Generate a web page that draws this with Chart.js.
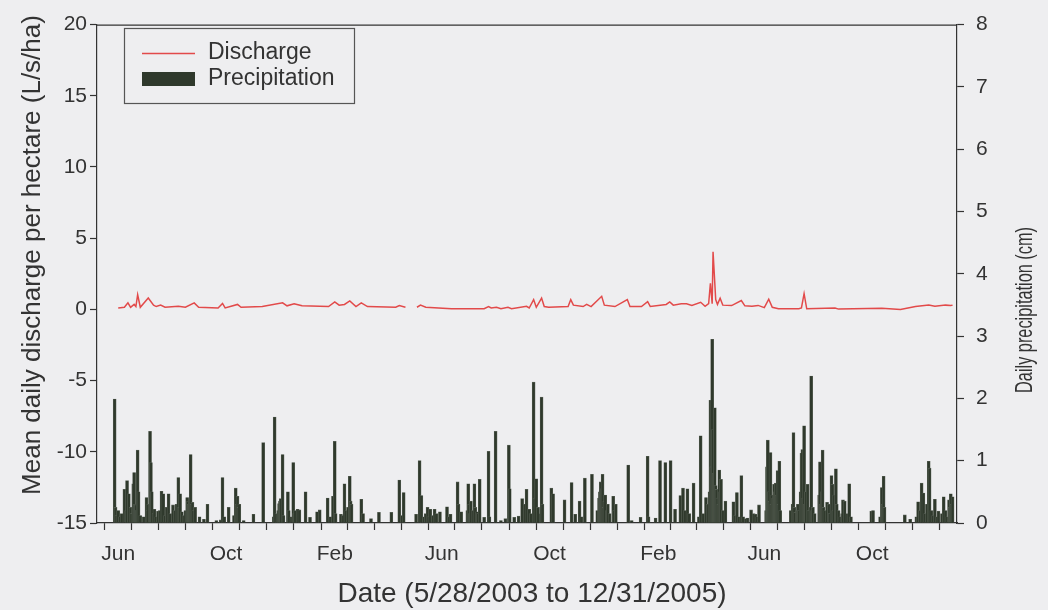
<!DOCTYPE html>
<html>
<head>
<meta charset="utf-8">
<title>Discharge and precipitation</title>
<script src="https://cdn.jsdelivr.net/npm/chart.js@4.4.1/dist/chart.umd.min.js"></script>
<style>
  html, body { margin: 0; padding: 0; background: #eeeef0; }
  #wrap { width: 1048px; height: 610px; }
</style>
</head>
<body>
<div id="wrap"><canvas id="chart" width="1048" height="610"></canvas></div>
<script>
// Day numbers are counted from 5/28/2003 (day 0) to 12/31/2005 (day 948).
const seriesStart = Date.UTC(2003, 4, 28);

// Daily precipitation (cm), rain days only
const precipDay = [
  0, 1, 2, 4, 6, 8, 11, 13, 14, 16,
  18, 19, 21, 22, 23, 24, 25, 26, 27, 29,
  33, 36, 37, 38, 40, 41, 42, 44, 45, 47,
  49, 51, 53, 55, 57, 59, 61, 63, 66, 68,
  70, 72, 73, 74, 76, 78, 80, 82, 83, 84,
  85, 86, 87, 88, 89, 91, 96, 101, 105, 115,
  120, 122, 124, 129, 135, 137, 138, 139, 140, 141,
  146, 157, 168, 180, 181, 183, 185, 186, 187, 188,
  190, 191, 196, 197, 200, 202, 203, 204, 207, 209,
  216, 221, 229, 232, 241, 244, 247, 249, 250, 256,
  258, 260, 262, 264, 266, 267, 268, 279, 281, 290,
  299, 313, 322, 325, 327, 341, 345, 347, 350, 352,
  354, 355, 357, 360, 362, 364, 368, 376, 378, 380,
  388, 389, 392, 399, 400, 401, 402, 403, 405, 407,
  408, 410, 411, 413, 418, 423, 424, 431, 437, 442,
  446, 447, 452, 457, 461, 464, 466, 469, 471, 474,
  475, 477, 479, 482, 483, 484, 494, 496, 509, 517,
  521, 526, 528, 532, 540, 546, 548, 549, 550, 551,
  552, 553, 554, 555, 557, 558, 560, 564, 565, 567,
  581, 585, 595, 603, 604, 612, 617, 623, 629, 634,
  640, 643, 645, 648, 650, 655, 661, 663, 666, 669,
  671, 673, 674, 675, 676, 677, 678, 679, 680, 681,
  682, 683, 684, 685, 686, 688, 691, 700, 702, 704,
  706, 709, 711, 714, 716, 720, 723, 725, 727, 729,
  737, 738, 739, 740, 741, 742, 743, 744, 745, 746,
  747, 748, 749, 750, 751, 752, 753, 765, 767, 768,
  769, 770, 772, 773, 774, 776, 777, 778, 779, 780,
  781, 782, 784, 785, 787, 788, 789, 790, 792, 797,
  798, 799, 800, 801, 802, 804, 806, 808, 809, 811,
  812, 813, 814, 816, 817, 819, 821, 823, 824, 826,
  829, 831, 833, 856, 858, 866, 868, 869, 870, 871,
  894, 900, 907, 909, 911, 913, 915, 917, 919, 921,
  922, 924, 926, 928, 930, 932, 936, 938, 940, 942,
  944, 945, 946, 947, 948
];
const precipCm = [
  1.99, 0.25, 0.12, 0.20, 0.10, 0.15, 0.54, 0.20, 0.68, 0.47,
  0.25, 0.15, 0.63, 0.81, 0.30, 0.29, 0.20, 1.17, 0.50, 0.12,
  0.10, 0.41, 0.20, 0.30, 1.47, 0.97, 0.50, 0.15, 0.22, 0.10,
  0.19, 0.20, 0.51, 0.47, 0.12, 0.25, 0.47, 0.15, 0.29, 0.20,
  0.30, 0.73, 0.25, 0.47, 0.18, 0.12, 0.20, 0.41, 0.35, 0.30,
  0.40, 1.10, 0.30, 0.33, 0.20, 0.25, 0.10, 0.06, 0.30, 0.04,
  0.05, 0.73, 0.10, 0.25, 0.12, 0.56, 0.30, 0.43, 0.25, 0.30,
  0.04, 0.14, 1.29, 0.10, 1.70, 0.15, 0.20, 0.31, 0.35, 0.39,
  1.10, 0.12, 0.50, 0.20, 0.10, 0.97, 0.15, 0.20, 0.22, 0.21,
  0.50, 0.09, 0.18, 0.21, 0.40, 0.10, 0.43, 1.31, 0.15, 0.14,
  0.12, 0.63, 0.20, 0.25, 0.75, 0.35, 0.30, 0.38, 0.15, 0.07,
  0.17, 0.17, 0.69, 0.12, 0.49, 0.14, 1.00, 0.44, 0.10, 0.15,
  0.25, 0.10, 0.22, 0.12, 0.22, 0.15, 0.18, 0.26, 0.10, 0.14,
  0.66, 0.30, 0.18, 0.20, 0.63, 0.30, 0.15, 0.35, 0.20, 0.63,
  0.25, 0.18, 0.15, 0.70, 0.09, 1.15, 0.10, 1.47, 0.04, 0.07,
  1.25, 0.55, 0.09, 0.11, 0.39, 0.30, 0.54, 0.22, 0.15, 2.26,
  0.40, 0.71, 0.25, 0.15, 2.02, 0.30, 0.56, 0.47, 0.37, 0.65,
  0.14, 0.35, 0.10, 0.72, 0.78, 0.20, 0.40, 0.50, 0.66, 0.55,
  0.78, 0.25, 0.35, 0.45, 0.20, 0.30, 0.15, 0.43, 0.20, 0.30,
  0.93, 0.04, 0.09, 1.07, 0.10, 0.08, 1.00, 0.97, 1.00, 0.22,
  0.44, 0.56, 0.20, 0.55, 0.15, 0.64, 0.10, 1.40, 0.15, 0.41,
  0.30, 0.50, 1.97, 0.90, 2.95, 1.50, 0.80, 1.85, 0.60, 0.54,
  0.40, 0.30, 0.85, 0.50, 0.70, 0.20, 0.35, 0.34, 0.12, 0.49,
  0.10, 0.76, 0.10, 0.07, 0.08, 0.21, 0.15, 0.14, 0.10, 0.29,
  0.20, 0.90, 1.33, 0.50, 0.35, 1.13, 0.30, 0.45, 0.40, 0.62,
  0.50, 0.64, 0.45, 0.84, 0.30, 0.99, 0.20, 0.20, 0.30, 1.45,
  0.25, 0.17, 0.20, 0.30, 0.20, 0.50, 1.12, 1.18, 0.40, 1.56,
  0.30, 0.50, 0.62, 0.20, 0.25, 2.36, 0.20, 0.25, 0.15, 0.45,
  0.98, 0.30, 0.50, 1.17, 0.25, 0.20, 0.33, 0.30, 0.15, 0.76,
  0.62, 0.20, 0.45, 0.87, 0.30, 0.20, 0.10, 0.15, 0.37, 0.35,
  0.15, 0.63, 0.10, 0.19, 0.20, 0.10, 0.57, 0.30, 0.75, 0.25,
  0.13, 0.06, 0.10, 0.34, 0.20, 0.64, 0.48, 0.15, 0.30, 0.99,
  0.88, 0.20, 0.12, 0.38, 0.10, 0.19, 0.15, 0.42, 0.20, 0.10,
  0.37, 0.25, 0.47, 0.30, 0.42
];

// Mean daily discharge per hectare (L/s/ha); null marks the logger gap
const dischargeDay = [
  4, 11, 15, 18, 22, 24, 26, 29, 38, 44,
  47, 52, 57, 72, 80, 90, 95, 117, 122, 125,
  139, 143, 167, 190, 195, 203, 212, 242, 249, 254,
  260, 266, 273, 279, 286, 318, 322, 329, 335, 342,
  346, 352, 381, 418, 423, 426, 432, 437, 445, 449,
  466, 469, 474, 477, 483, 486, 491, 513, 516, 519,
  530, 534, 539, 551, 554, 566, 580, 583, 596, 603,
  606, 624, 628, 632, 641, 647, 653, 663, 668, 672,
  674, 676, 677, 680, 682, 685, 688, 698, 709, 713,
  721, 728, 735, 740, 744, 751, 774, 777, 780, 783,
  815, 819, 868, 889, 906, 921, 928, 940, 946, 948
];
const dischargeLps = [
  0.10, 0.15, 0.46, 0.15, 0.35, 0.20, 1.03, 0.15, 0.80, 0.30,
  0.20, 0.30, 0.15, 0.22, 0.15, 0.46, 0.15, 0.10, 0.42, 0.10,
  0.35, 0.15, 0.20, 0.46, 0.25, 0.40, 0.25, 0.20, 0.53, 0.30,
  0.35, 0.60, 0.20, 0.46, 0.20, 0.15, 0.27, 0.15, null, 0.15,
  0.30, 0.15, 0.05, 0.05, 0.20, 0.10, 0.15, 0.05, 0.15, 0.05,
  0.22, 0.10, 0.69, 0.15, 0.80, 0.20, 0.15, 0.20, 0.69, 0.30,
  0.20, 0.35, 0.20, 0.92, 0.30, 0.20, 0.69, 0.20, 0.20, 0.55,
  0.20, 0.35, 0.53, 0.30, 0.39, 0.39, 0.27, 0.50, 0.22, 0.40,
  1.84, 0.40, 4.05, 0.69, 0.35, 0.78, 0.30, 0.27, 0.62, 0.25,
  0.22, 0.28, 0.12, 0.72, 0.15, 0.05, 0.05, 0.10, 1.10, 0.04,
  0.10, 0.02, 0.08, 0.00, 0.20, 0.30, 0.22, 0.30, 0.27, 0.30
];

// Axis ticks and labels
const dischargeTicks = [-15, -10, -5, 0, 5, 10, 15, 20];
const precipTicks = [0, 1, 2, 3, 4, 5, 6, 7, 8];
const monthNames = ['Jan', 'Feb', 'Mar', 'Apr', 'May', 'Jun', 'Jul', 'Aug', 'Sep', 'Oct', 'Nov', 'Dec'];
const labeledMonths = [1, 5, 9];
const xTitle = 'Date (5/28/2003 to 12/31/2005)';
const yTitle = 'Mean daily discharge per hectare (L/s/ha)';
const y1Title = 'Daily precipitation (cm)';
const seriesNames = ['Discharge', 'Precipitation'];

const xMin = -20, xMax = 953;
const FONT = '"Liberation Sans", Arial, Helvetica, sans-serif';
const INK = '#333333';
const RED = '#e24a4a';
const BAR = '#2f392c';

// one tick at the first of every month, named only for Feb / Jun / Oct
const monthTicks = [];
for (let y = 2003; y <= 2006; y++) {
  for (let m = 0; m < 12; m++) {
    const d = Math.round((Date.UTC(y, m, 1) - seriesStart) / 86400000);
    if (d >= xMin && d <= xMax) {
      monthTicks.push({ value: d, label: labeledMonths.includes(m) ? monthNames[m] : '' });
    }
  }
}

const dischargePoints = dischargeDay.map((d, i) => ({ x: d, y: dischargeLps[i] }));
const precipPoints = precipDay.map((d, i) => ({ x: d, y: precipCm[i] }));

// frame, axis titles and boxed legend
const decorations = {
  id: 'decorations',
  afterDraw(chart) {
    const { ctx, chartArea: a } = chart;
    ctx.save();
    // top edge of the frame
    ctx.strokeStyle = '#333';
    ctx.lineWidth = 1.2;
    ctx.beginPath();
    ctx.moveTo(a.left, a.top + 0.5);
    ctx.lineTo(a.right, a.top + 0.5);
    ctx.stroke();

    ctx.fillStyle = INK;
    ctx.textAlign = 'center';
    ctx.textBaseline = 'middle';

    ctx.font = '28px ' + FONT;
    ctx.fillText(xTitle, 532, 594);

    ctx.save();
    ctx.translate(33, 255);
    ctx.rotate(-Math.PI / 2);
    ctx.font = '26px ' + FONT;
    ctx.fillText(yTitle, 0, 0);
    ctx.restore();

    // right-hand title is set in a condensed face
    ctx.save();
    ctx.translate(1025, 310);
    ctx.rotate(-Math.PI / 2);
    ctx.scale(0.68, 1);
    ctx.font = '24px ' + FONT;
    ctx.fillText(y1Title, 0, 0);
    ctx.restore();

    // legend
    ctx.strokeStyle = '#555';
    ctx.lineWidth = 1.2;
    ctx.strokeRect(124.5, 28.5, 230, 75);
    ctx.strokeStyle = RED;
    ctx.lineWidth = 1.5;
    ctx.beginPath();
    ctx.moveTo(142, 53.5);
    ctx.lineTo(195, 53.5);
    ctx.stroke();
    ctx.fillStyle = BAR;
    ctx.fillRect(142, 72, 53, 14);
    ctx.fillStyle = INK;
    ctx.textAlign = 'left';
    ctx.font = '23px ' + FONT;
    ctx.fillText(seriesNames[0], 208, 53);
    ctx.fillText(seriesNames[1], 208, 79);
    ctx.restore();
  }
};

new Chart(document.getElementById('chart'), {
  type: 'bar',
  data: {
    datasets: [
      {
        type: 'line',
        label: seriesNames[0],
        data: dischargePoints,
        yAxisID: 'y',
        borderColor: RED,
        borderWidth: 1.5,
        pointRadius: 0,
        tension: 0,
        spanGaps: false,
        order: 0
      },
      {
        type: 'bar',
        label: seriesNames[1],
        data: precipPoints,
        yAxisID: 'y1',
        backgroundColor: BAR,
        borderColor: '#5a6257',
        borderWidth: 0.6,
        barThickness: 3,
        grouped: false,
        order: 1
      }
    ]
  },
  options: {
    responsive: false,
    devicePixelRatio: 1,
    animation: false,
    layout: { padding: { top: 18, left: 0, right: 0, bottom: 0 } },
    plugins: { legend: { display: false }, tooltip: { enabled: false } },
    scales: {
      x: {
        type: 'linear',
        min: xMin,
        max: xMax,
        offset: false,
        afterBuildTicks: s => { s.ticks = monthTicks.map(t => ({ value: t.value })); },
        afterFit: s => { s.height = 87; },
        ticks: {
          autoSkip: false,
          maxRotation: 0,
          padding: 12,
          color: INK,
          font: { family: FONT, size: 21 },
          callback: v => { const t = monthTicks.find(m => m.value === v); return t ? t.label : ''; }
        },
        grid: { drawOnChartArea: false, tickLength: 7, tickColor: '#333', tickWidth: 1.2 },
        border: { color: '#333', width: 1.2 }
      },
      y: {
        position: 'left',
        min: dischargeTicks[0],
        max: dischargeTicks[dischargeTicks.length - 1],
        afterBuildTicks: s => { s.ticks = dischargeTicks.map(v => ({ value: v })); },
        afterFit: s => { s.width = 97; },
        ticks: { padding: 3, color: INK, font: { family: FONT, size: 21 } },
        grid: { drawOnChartArea: false, tickLength: 7, tickColor: '#333', tickWidth: 1.2 },
        border: { color: '#333', width: 1.2 }
      },
      y1: {
        position: 'right',
        min: precipTicks[0],
        max: precipTicks[precipTicks.length - 1],
        afterBuildTicks: s => { s.ticks = precipTicks.map(v => ({ value: v })); },
        afterFit: s => { s.width = 91; },
        ticks: { padding: 12, color: INK, font: { family: FONT, size: 21 } },
        grid: { drawOnChartArea: false, tickLength: 7, tickColor: '#333', tickWidth: 1.2 },
        border: { color: '#333', width: 1.2 }
      }
    }
  },
  plugins: [decorations]
});
</script>
</body>
</html>
